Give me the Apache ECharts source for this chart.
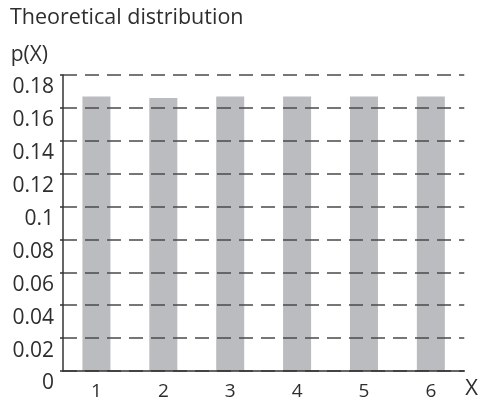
<!DOCTYPE html>
<html>
<head>
<meta charset="utf-8">
<script src="https://cdn.jsdelivr.net/npm/echarts@6/dist/echarts.min.js"></script>
<style>html,body{margin:0;padding:0;background:#fff}#c{width:481px;height:401px}</style>
</head>
<body>
<div id="c"></div>
<script>
var titleText = 'Theoretical distribution';
var yName = 'p(X)';
var xName = 'X';
var categories = ['1', '2', '3', '4', '5', '6'];
var probabilities = [0.167, 0.166, 0.167, 0.167, 0.167, 0.167];
var yTickLabels = ['0', '0.02', '0.04', '0.06', '0.08', '0.1', '0.12', '0.14', '0.16', '0.18'];

var FONT = 'Open Sans';
var chart = echarts.init(document.getElementById('c'), null, {renderer: 'canvas'});
chart.setOption({
  animation: false,
  backgroundColor: '#fff',
  title: {
    text: titleText, left: 5, top: 2,
    textStyle: {fontFamily: FONT, fontSize: 21.5, fontWeight: 'normal', color: '#2e2e2e'}
  },
  grid: {left: 63, right: 15, top: 75, bottom: 28, containLabel: false},
  xAxis: {
    type: 'category', data: categories, z: 5,
    name: xName, nameLocation: 'end', nameGap: 1,
    nameTextStyle: {fontFamily: FONT, fontSize: 22, color: '#2e2e2e', verticalAlign: 'top', padding: [7, 0, 0, 0], align: 'left'},
    axisLine: {lineStyle: {color: '#333', width: 1.5}},
    axisTick: {show: false},
    axisLabel: {fontFamily: FONT, fontSize: 19, color: '#2e2e2e', margin: 11},
    splitLine: {show: false}
  },
  yAxis: {
    type: 'value', min: 0, max: 0.18, interval: 0.02, z: 5,
    name: yName, nameLocation: 'end', nameGap: 9,
    nameTextStyle: {fontFamily: FONT, fontSize: 21, color: '#2e2e2e', align: 'right', padding: [0, 15, 0, 0]},
    axisLine: {show: true, lineStyle: {color: '#333', width: 1.5}},
    axisTick: {show: true, length: 3, lineStyle: {color: '#333', width: 1.5}},
    axisLabel: {
      fontFamily: FONT, fontSize: 21, color: '#2e2e2e', margin: 9, verticalAlign: 'top', padding: [2, 0, 0, 0],
      formatter: function (v) { return yTickLabels[Math.round(v / 0.02)]; }
    },
    splitLine: {show: true, lineStyle: {color: '#4a4a4a', width: 1.5, type: [14, 8]}}
  },
  series: [{
    type: 'bar', data: probabilities, barWidth: 28, z: 1,
    itemStyle: {color: '#bbbcc0'}
  }]
});
</script>
</body>
</html>
